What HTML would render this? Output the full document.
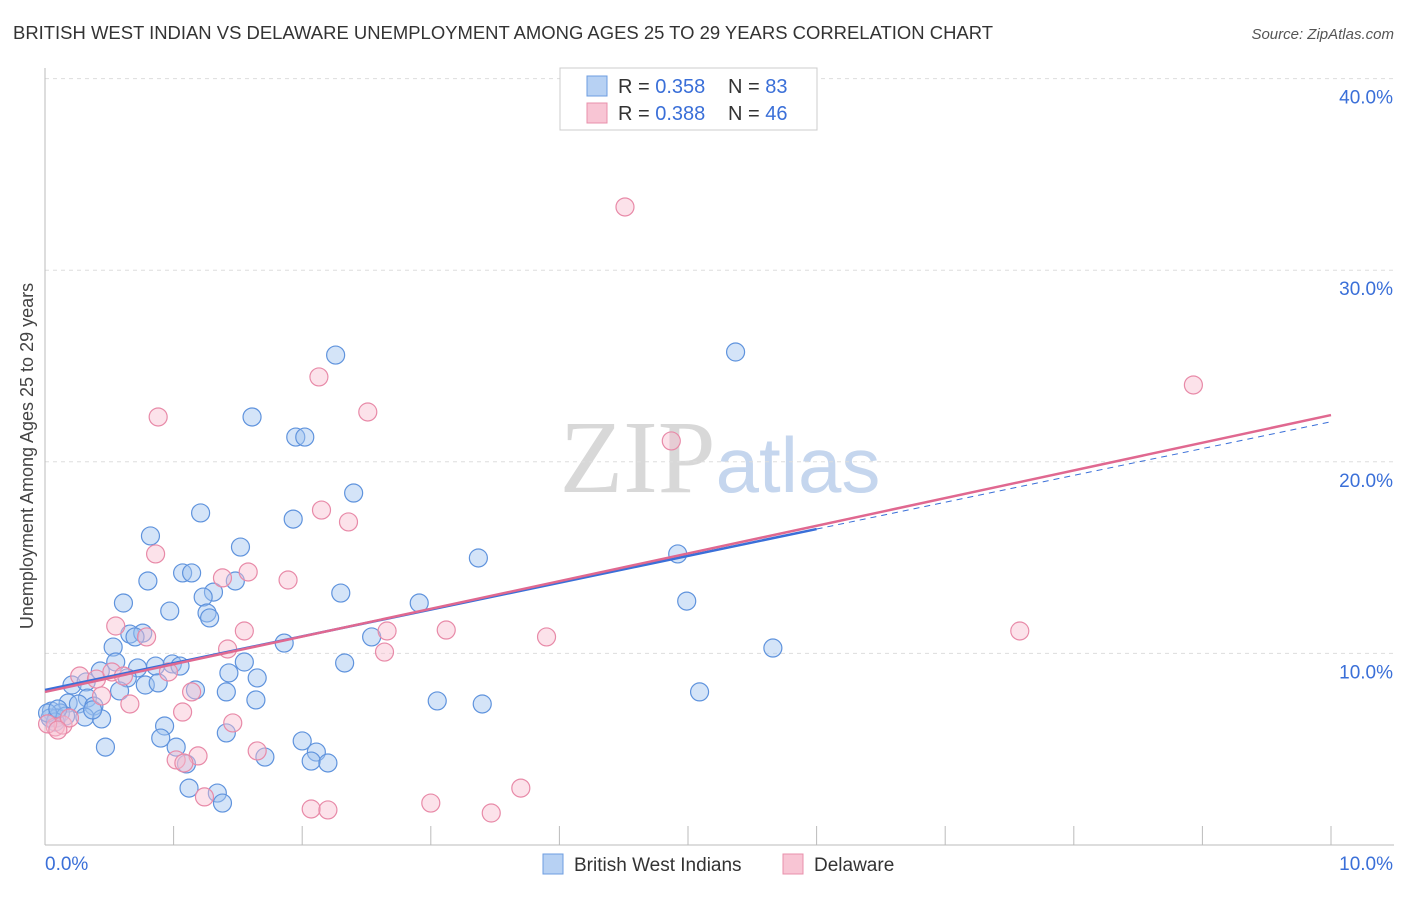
<!DOCTYPE html>
<html><head><meta charset="utf-8"><style>
body{margin:0;background:#fff;font-family:"Liberation Sans",sans-serif}
svg text{font-family:"Liberation Sans",sans-serif}
</style></head><body>
<svg id="chart" width="1406" height="892" xmlns="http://www.w3.org/2000/svg">
<text x="13" y="39" font-size="18" fill="#333" textLength="980" lengthAdjust="spacingAndGlyphs">BRITISH WEST INDIAN VS DELAWARE UNEMPLOYMENT AMONG AGES 25 TO 29 YEARS CORRELATION CHART</text>
<text x="1394" y="39" font-size="15" fill="#555" text-anchor="end" font-style="italic">Source: ZipAtlas.com</text>
<text x="720" y="492" font-size="104" text-anchor="middle"><tspan fill="#d8d8d8" font-family="Liberation Serif">ZIP</tspan><tspan fill="#c5d6ee" font-size="78">atlas</tspan></text>
<g id="grid"></g><g id="axes"></g><g id="pts"></g><g id="trend"></g>
<text transform="translate(33,456) rotate(-90)" font-size="18" fill="#444" text-anchor="middle">Unemployment Among Ages 25 to 29 years</text>
<g>
<rect x="560" y="68" width="257" height="62" fill="#fff" stroke="#ccc"/>
<rect x="587" y="76" width="20" height="20" fill="#b7d1f3" stroke="#6d9de0"/>
<rect x="587" y="103" width="20" height="20" fill="#f8c5d4" stroke="#e890ab"/>
<text x="618" y="93" font-size="20" fill="#333">R = <tspan fill="#3a6fd8">0.358</tspan></text>
<text x="728" y="93" font-size="20" fill="#333">N = <tspan fill="#3a6fd8">83</tspan></text>
<text x="618" y="120" font-size="20" fill="#333">R = <tspan fill="#3a6fd8">0.388</tspan></text>
<text x="728" y="120" font-size="20" fill="#333">N = <tspan fill="#3a6fd8">46</tspan></text>
</g>
<g>
<rect x="543" y="854" width="20" height="20" fill="#b7d1f3" stroke="#6d9de0"/>
<text x="574" y="871" font-size="19" fill="#333">British West Indians</text>
<rect x="783" y="854" width="20" height="20" fill="#f8c5d4" stroke="#e890ab"/>
<text x="814" y="871" font-size="19" fill="#333">Delaware</text>
</g>
</svg>
<script>
const yTicks=[10,20,30,40];
const yTickLabels=["10.0%","20.0%","30.0%","40.0%"];
const xTickLabels=["0.0%","10.0%"];
const bwiX=[2.26,5.37,1.61,1.95,2.02,2.40,1.21,1.93,0.82,1.52,3.37,4.92,1.07,1.14,0.80,1.48,1.31,1.23,2.30,0.61,2.91,4.99,0.97,1.26,1.28,0.66,0.76,0.70,2.54,0.53,1.86,5.66,0.55,0.43,0.72,0.86,0.99,1.05,1.55,2.33,1.43,1.65,0.64,0.21,0.32,0.78,0.88,1.17,0.58,1.41,5.09,0.33,1.64,3.05,3.40,0.18,0.26,0.38,0.05,0.12,0.04,0.09,0.16,0.31,0.44,0.37,0.93,1.41,0.90,2.0,0.47,1.02,2.11,1.71,2.07,2.20,1.10,1.12,1.34,1.38,0.08,0.02,0.10];
const bwiY=[25.57,25.73,22.34,21.29,21.29,18.37,17.33,17.01,16.13,15.55,14.98,15.19,14.20,14.20,13.78,13.78,13.20,12.94,13.15,12.63,12.63,12.73,12.21,12.11,11.85,11.01,11.06,10.86,10.86,10.33,10.54,10.28,9.55,9.08,9.24,9.34,9.45,9.34,9.55,9.50,8.98,8.72,8.72,8.35,8.51,8.35,8.46,8.09,8.04,7.99,7.99,7.67,7.57,7.52,7.36,7.41,7.36,7.25,6.99,6.89,6.63,6.63,6.73,6.68,6.58,7.05,6.21,5.85,5.58,5.43,5.11,5.11,4.85,4.59,4.38,4.28,4.23,2.97,2.71,2.19,6.42,6.89,7.10];
const delX=[4.51,8.93,2.13,2.51,0.88,4.87,2.15,2.36,0.86,1.58,1.38,1.89,0.55,1.55,2.66,3.12,3.90,7.58,0.79,1.42,2.64,0.27,0.40,0.52,0.96,0.61,1.14,0.44,0.66,1.07,1.46,0.08,0.14,0.02,0.19,1.65,1.19,1.02,1.08,3.70,1.24,3.00,2.07,2.20,3.47,0.10];
const delY=[33.30,24.01,24.43,22.60,22.34,21.09,17.48,16.86,15.19,14.25,13.94,13.83,11.43,11.17,11.17,11.22,10.86,11.17,10.86,10.23,10.07,8.82,8.66,9.03,9.03,8.82,7.99,7.78,7.36,6.94,6.37,6.16,6.26,6.32,6.63,4.91,4.65,4.44,4.28,2.97,2.51,2.19,1.88,1.83,1.67,6.0];
const bwiTrend=[8.09,1.40,6.0];
const delTrend=[7.99,1.445];
const NS="http://www.w3.org/2000/svg";
const X=v=>45+v*128.6, Y=v=>845-v*19.16;
function mk(tag,at,parent){const e=document.createElementNS(NS,tag);for(const k in at)e.setAttribute(k,at[k]);document.getElementById(parent).appendChild(e);return e;}
yTicks.forEach((t,i)=>{
 const g=mk('line',{x1:45,x2:1394,y1:Y(t),y2:Y(t),stroke:'#ddd','stroke-dasharray':'4,4'},'grid');
 
 
 const l=mk('text',{x:1393,y:Y(t)+25,'font-size':19,fill:'#3a6fd8','text-anchor':'end'},'axes');
 l.textContent=yTickLabels[i];
 
 
});
const ax=mk('line',{x1:45,x2:45,y1:68,y2:845,stroke:'#bbb'},'axes');


const bx=mk('line',{x1:45,x2:1394,y1:845,y2:845,stroke:'#bbb'},'axes');


for(let i=0;i<=10;i++){const t=mk('line',{x1:X(i),x2:X(i),y1:826,y2:845,stroke:'#bbb'},'axes');
 
 }
[[0,45,'start'],[10,1393,'end']].forEach((a,i)=>{const t=mk('text',{x:a[1],y:870,'font-size':19,fill:'#3a6fd8','text-anchor':a[2]},'axes');t.textContent=xTickLabels[i];
 
 });
bwiX.forEach((x,i)=>{const c=mk('circle',{cx:X(x),cy:Y(bwiY[i]),r:9,fill:'rgba(160,195,240,0.45)',stroke:'#5f93dd','stroke-width':1.2},'pts');
 
 });
delX.forEach((x,i)=>{const c=mk('circle',{cx:X(x),cy:Y(delY[i]),r:9,fill:'rgba(248,190,208,0.45)',stroke:'#e88aa8','stroke-width':1.2},'pts');
 
 });
const f=(t,x)=>t[0]+t[1]*x;
let l1=mk('line',{x1:X(0),y1:Y(f(bwiTrend,0)),x2:X(bwiTrend[2]),y2:Y(f(bwiTrend,bwiTrend[2])),stroke:'#3a6fd8','stroke-width':2.5},'trend');


let l2=mk('line',{x1:X(bwiTrend[2]),y1:Y(f(bwiTrend,bwiTrend[2])),x2:X(10),y2:Y(f(bwiTrend,10)),stroke:'#3a6fd8','stroke-width':1,'stroke-dasharray':'6,5'},'trend');


let l3=mk('line',{x1:X(0),y1:Y(f(delTrend,0)),x2:X(10),y2:Y(f(delTrend,10)),stroke:'#e06890','stroke-width':2.5},'trend');


</script>
</body></html>
